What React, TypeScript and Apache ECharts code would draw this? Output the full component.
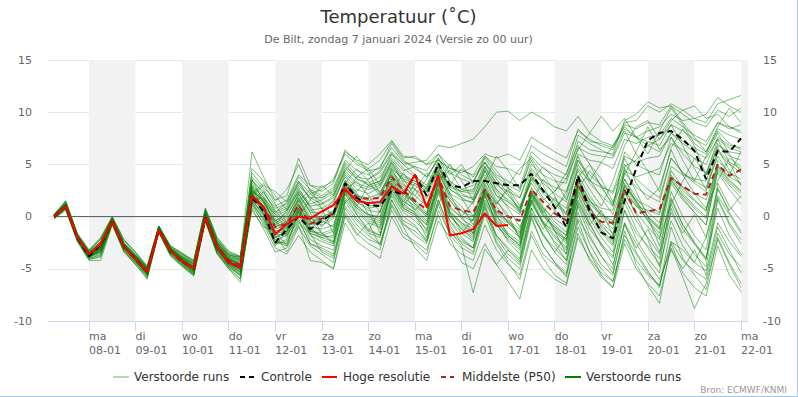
import React, { useEffect, useRef } from "react";
import * as echarts from "echarts";

// ---- time axis (hours since 07-01 00:00) ----
const START_HOURS = 6;
const STEP_HOURS = 6;
const AXIS_MIN = 2.9;
const AXIS_MAX = 363.6;
const tickHours = [24, 48, 72, 96, 120, 144, 168, 192, 216, 240, 264, 288, 312, 336, 360];
const dayNames = ["ma", "di", "wo", "do", "vr", "za", "zo", "ma", "di", "wo", "do", "vr", "za", "zo", "ma"];
const dayDates = ["08-01", "09-01", "10-01", "11-01", "12-01", "13-01", "14-01", "15-01", "16-01", "17-01", "18-01", "19-01", "20-01", "21-01", "22-01"];
const shadedDays = [[24, 48], [72, 96], [120, 144], [168, 192], [216, 240], [264, 288], [312, 336], [360, 363.6]];
const zeroLineHours = [6, 354];

// ---- y axis ----
const Y_MIN = -10;
const Y_MAX = 15;
const Y_STEP = 5;

// ---- Hoge resolutie (HRES, to +240h) ----
const hres = [0.0, 1.0, -2.0, -3.6, -2.6, -0.5, -2.9, -4.1, -5.3, -1.3, -3.3, -4.3, -5.0, -0.1, -2.9, -4.4, -4.9,
  2.0, 0.9, -1.7, -0.7, 0.0, -0.2, 0.5, 1.1, 2.6, 1.5, 1.3, 1.4, 2.9, 2.2, 4.0, 0.9, 4.0, -1.8, -1.6, -1.2, 0.3, -0.9, -0.8];

// ---- Controle ----
const controle = [0.0, 1.0, -2.0, -3.8, -2.7, -0.5, -2.9, -4.1, -5.3, -1.3, -3.3, -4.3, -5.0, -0.1, -2.9, -4.4, -4.9,
  1.8, 0.5, -2.5, -1.2, 0.0, -1.2, -0.4, 0.3, 3.2, 1.8, 1.1, 1.0, 2.5, 2.1, 4.0, 2.0, 5.1, 3.0, 2.8, 3.4, 3.4, 3.2, 3.0,
  3.0, 4.1, 2.5, 0.9, -1.0, 3.9, 0.6, -1.5, -2.1, 1.5, 4.6, 7.3, 8.0, 8.2, 7.4, 6.3, 3.6, 6.3, 6.2, 7.5];

// ---- Middelste (P50) ----
const p50 = [0.0, 1.0, -2.0, -3.6, -2.8, -0.4, -2.9, -4.0, -5.2, -1.2, -3.3, -4.2, -4.9, 0.0, -2.8, -4.2, -4.6,
  2.0, 0.9, -1.0, -0.7, 1.1, -0.7, -0.2, 0.3, 3.0, 1.8, 1.7, 1.8, 3.8, 2.5, 1.5, 0.7, 3.8, 1.0, 0.6, 0.4, 2.6, 0.6, 0.0,
  -0.4, 2.6, 1.4, 0.3, -0.4, 3.3, 0.4, -0.5, -0.6, 2.6, 0.3, 0.5, 0.7, 3.7, 2.9, 2.2, 2.1, 5.0, 3.9, 4.5];

// ---- Verstoorde runs (ensemble members) ----
const members = [
  [0.1, 1.3, -1.8, -3.4, -2.4, -0.2, -2.6, -3.7, -4.9, -1.0, -3.0, -3.8, -4.5, 0.4, -2.4, -3.7, -4.0, 3.5, 2.2, 0.8, 1.2, 3.0, 1.8, 1.2, 2.0, 4.6, 3.6, 3.2, 3.8, 5.6, 4.4, 4.8, 3.8, 5.4, 4.6, 4.2, 4.8, 6.0, 5.6, 6.0, 5.4, 7.6, 6.9, 6.2, 5.6, 8.2, 7.4, 6.8, 6.4, 8.8, 8.4, 9.0, 8.8, 10.6, 9.8, 9.0, 8.6, 10.2, 9.6, 10.4],
  [-0.2, 0.7, -2.3, -4.1, -3.8, -0.7, -3.3, -4.5, -5.8, -1.5, -3.7, -4.7, -5.6, -0.4, -3.5, -4.9, -5.9, 1.0, -0.6, -2.6, -2.2, -0.2, -2.6, -3.0, -3.6, 0.4, -1.2, -2.2, -2.6, 0.6, -1.6, -2.4, -3.2, 0.2, -2.6, -3.6, -4.2, -0.8, -3.2, -4.6, -5.6, -1.4, -3.6, -4.6, -5.6, -1.0, -3.4, -5.0, -6.2, -2.2, -4.2, -5.6, -6.6, -2.4, -4.2, -5.2, -6.0, -1.6, -3.6, -4.8],
  [0.0, 1.0, -2.0, -3.7, -3.0, -0.4, -2.9, -4.0, -5.3, -1.2, -3.3, -4.2, -5.0, 0.0, -2.9, -4.3, -4.8, 2.5, 1.2, -1.0, -0.5, 1.5, -0.5, 0.0, 0.5, 3.5, 2.0, 1.5, 2.0, 4.2, 2.8, 2.0, 1.0, 4.0, 1.5, 0.5, 0.0, 3.0, 0.5, -0.5, -1.5, 2.8, 1.0, -0.5, -1.5, 3.5, 1.0, -1.0, -2.0, 3.0, 1.5, 0.0, -1.0, 4.0, 2.5, 1.5, 0.5, 5.0, 3.5, 2.5],
  [0.2, 1.5, -1.6, -3.2, -2.0, 0.0, -2.2, -3.4, -4.8, -0.9, -2.8, -3.5, -4.2, 0.8, -2.0, -3.4, -3.9, 6.2, 3.8, 1.5, 2.6, 5.0, 2.4, 1.8, 2.6, 5.2, 4.0, 3.0, 3.4, 6.0, 4.6, 3.8, 3.0, 5.2, 2.6, 1.8, 1.2, 4.4, 2.0, 1.0, 0.2, 4.0, 2.6, 1.4, 0.4, 5.0, 3.2, 2.0, 1.0, 6.2, 5.0, 4.4, 4.0, 7.6, 6.0, 4.8, 4.2, 7.0, 5.8, 5.4],
  [-0.1, 0.9, -2.1, -3.9, -3.3, -0.5, -3.0, -4.2, -5.5, -1.3, -3.4, -4.4, -5.3, -0.2, -3.1, -4.6, -5.3, 1.5, 0.2, -2.0, -1.6, 0.6, -1.8, -2.4, -2.8, 1.8, 0.4, -0.6, -1.0, 2.4, 0.6, 0.0, -1.2, 2.6, -0.8, -2.6, -3.4, 0.8, -2.4, -4.0, -5.0, -0.2, -2.8, -4.4, -5.4, 0.4, -2.6, -4.6, -5.6, -0.6, -3.4, -5.2, -6.8, -1.0, -4.0, -5.6, -7.0, -2.0, -4.4, -6.4],
  [0.0, 1.1, -1.9, -3.6, -2.8, -0.3, -2.8, -3.9, -5.2, -1.1, -3.1, -4.0, -4.8, 0.2, -2.7, -4.0, -4.5, 2.0, 0.4, -1.8, -3.4, -1.0, -2.8, -3.6, -4.4, 1.0, -0.4, -1.6, -2.0, 3.0, 1.0, 0.4, -1.4, 3.4, 0.6, -0.6, -1.6, 2.4, 0.2, -1.8, -2.8, 1.8, -0.4, -1.8, -3.0, 2.6, 0.2, -1.6, -2.8, 2.2, 0.4, -1.0, -2.2, 3.2, 1.6, 0.4, -0.8, 4.2, 2.6, 1.2],
  [0.1, 1.4, -1.7, -3.3, -2.2, -0.1, -2.5, -3.6, -4.8, -0.9, -2.9, -3.6, -4.4, 0.6, -2.2, -3.5, -3.8, 4.2, 2.8, 1.6, 2.0, 5.6, 3.0, 2.4, 3.2, 6.4, 5.2, 4.6, 5.4, 7.2, 5.6, 5.8, 5.0, 5.4, 4.6, 4.4, 4.0, 5.8, 4.8, 4.6, 4.0, 6.8, 6.0, 5.4, 4.8, 8.4, 7.2, 7.0, 6.6, 9.0, 9.2, 10.6, 10.0, 10.8, 10.2, 9.4, 9.0, 10.8, 11.2, 11.6],
  [-0.1, 0.8, -2.2, -3.8, -3.4, -0.6, -3.1, -4.3, -5.6, -1.4, -3.5, -4.5, -5.4, -0.3, -3.2, -4.7, -5.5, 2.2, 0.8, -1.4, -1.2, 0.8, -1.2, -1.8, -1.4, 2.8, 1.4, 0.6, 0.4, 3.4, 1.6, 0.6, -0.6, 3.2, 0.2, -1.2, -2.2, 2.2, -0.8, -2.2, -3.2, 1.6, -0.8, -2.4, -3.6, 2.0, -0.6, -2.8, -4.0, 1.4, -1.2, -3.0, -4.6, 1.8, -0.8, -2.6, -4.2, 2.8, 0.4, -1.4],
  [0.0, 1.2, -1.9, -3.5, -2.7, -0.3, -2.7, -3.8, -5.1, -1.1, -3.2, -4.1, -4.9, 0.1, -2.6, -4.1, -4.4, 2.8, 1.6, -0.4, 0.2, 2.0, 0.4, 0.4, 1.2, 4.0, 2.6, 2.2, 2.8, 4.8, 3.4, 3.0, 2.2, 4.6, 2.8, 2.4, 2.6, 4.8, 3.2, 2.8, 1.8, 4.6, 3.4, 2.8, 2.4, 6.0, 5.4, 5.2, 4.6, 7.4, 7.0, 7.6, 7.8, 9.4, 8.6, 7.8, 7.2, 9.0, 8.4, 8.8],
  [-0.2, 0.6, -2.4, -4.2, -4.2, -0.8, -3.4, -4.6, -6.0, -1.5, -3.8, -4.8, -5.7, -0.5, -3.6, -5.0, -6.3, 1.2, -0.2, -2.4, -2.6, 0.2, -2.2, -2.8, -3.2, 1.4, -0.2, -1.4, -1.8, 1.6, -0.6, -1.8, -2.6, 1.2, -1.8, -3.0, -3.6, 0.2, -2.6, -4.4, -6.0, -1.8, -4.0, -5.6, -6.4, -1.6, -4.2, -5.8, -6.8, -2.6, -5.0, -6.4, -7.6, -3.0, -5.8, -8.8, -6.4, -2.2, -4.6, -6.8],
  [0.1, 1.2, -1.9, -3.5, -2.5, -0.2, -2.7, -3.8, -5.0, -1.0, -3.1, -3.9, -4.6, 0.3, -2.5, -3.8, -4.1, 3.0, 1.8, 0.0, 0.6, 2.6, 1.2, 1.6, 2.2, 4.8, 3.8, 3.6, 4.2, 6.0, 5.0, 5.2, 5.4, 6.8, 6.6, 7.0, 7.4, 8.6, 10.0, 10.1, 9.2, 10.0, 9.4, 8.6, 8.2, 9.6, 8.0, 7.2, 6.8, 8.6, 7.6, 6.8, 6.2, 8.0, 7.2, 6.6, 6.0, 8.4, 7.8, 7.4],
  [0.0, 0.9, -2.0, -3.8, -3.1, -0.4, -3.0, -4.1, -5.4, -1.2, -3.3, -4.3, -5.1, -0.1, -3.0, -4.4, -5.0, 1.8, 0.6, -1.6, -1.0, 1.2, -1.0, -1.2, -0.8, 2.6, 1.2, 0.0, -0.4, 2.8, 0.8, 0.2, -2.0, 1.6, -1.4, -2.8, -7.3, -3.1, -4.6, -6.2, -7.9, -3.2, -5.0, -6.0, -6.6, -2.0, -4.0, -5.4, -6.2, -1.8, -3.6, -5.4, -6.6, -2.4, -3.2, -4.4, -5.2, -0.6, -2.4, -3.8],
  [0.0, 1.0, -1.9, -3.7, -2.9, -0.4, -2.8, -4.0, -5.2, -1.2, -3.2, -4.1, -4.9, 0.1, -2.8, -4.2, -4.7, 2.6, 1.4, -0.8, -0.2, 1.6, -0.2, -0.6, 0.0, 3.2, 1.8, 1.0, 1.2, 3.6, 2.0, 1.4, 0.2, 3.8, 1.0, -0.2, -1.0, 2.8, 0.2, -0.6, -1.8, 2.4, 0.4, -1.2, -2.4, 3.0, 0.6, -1.4, -2.6, 2.4, 1.0, 0.6, 0.2, 4.8, 4.0, 3.6, 3.4, 6.8, 6.2, 6.0],
  [0.1, 1.1, -1.8, -3.5, -2.6, -0.3, -2.7, -3.8, -5.0, -1.1, -3.1, -3.9, -4.7, 0.3, -2.6, -3.9, -4.2, 3.2, 2.0, 0.2, 0.8, 3.2, 1.8, 1.8, 2.4, 5.0, 3.6, 3.0, 3.4, 5.4, 4.0, 3.4, 2.8, 5.0, 3.4, 2.6, 2.4, 5.2, 3.8, 3.0, 2.4, 5.8, 4.6, 4.0, 3.6, 7.2, 6.4, 6.2, 6.0, 9.2, 9.8, 11.0, 10.4, 10.6, 9.0, 7.6, 6.2, 8.2, 7.0, 6.4],
  [-0.1, 0.8, -2.2, -4.0, -3.6, -0.6, -3.2, -4.4, -5.7, -1.4, -3.6, -4.6, -5.5, -0.3, -3.4, -4.8, -5.6, 0.8, -1.2, -3.4, -3.0, -0.8, -4.2, -4.4, -5.0, -0.6, -2.4, -3.2, -4.0, 0.0, -2.0, -2.6, -3.6, 0.6, -1.6, -2.4, -3.0, 1.4, -0.8, -2.0, -3.0, 1.2, -0.6, -1.4, -2.2, 3.4, 1.6, 0.2, -0.8, 4.2, 2.8, 2.0, 1.4, 5.6, 4.2, 3.4, 2.8, 6.4, 5.2, 4.6],
  [0.0, 1.0, -2.1, -3.7, -3.0, -0.5, -2.9, -4.1, -5.3, -1.2, -3.3, -4.2, -5.0, 0.0, -2.9, -4.3, -4.9, 2.4, 1.0, -1.2, -0.8, 1.0, -0.8, -0.4, 0.2, 3.0, 1.6, 1.2, 1.4, 3.8, 2.2, 1.6, 0.4, 3.6, 0.8, 0.0, -0.4, 2.6, 0.4, -0.4, -1.2, 2.2, 0.8, -0.2, -1.0, 3.0, 1.2, 0.2, -0.4, 2.8, 1.6, 1.0, 0.4, 3.8, 2.8, 2.2, 1.6, 4.8, 3.8, 3.2],
  [0.2, 1.4, -1.7, -3.3, -2.2, -0.1, -2.3, -3.5, -4.9, -1.0, -2.9, -3.6, -4.3, 0.6, -2.2, -3.6, -4.1, 3.8, 2.6, 1.0, 1.6, 4.0, 3.0, 2.8, 3.4, 6.0, 5.0, 4.4, 4.6, 7.0, 5.4, 4.6, 3.8, 5.6, 3.4, 2.2, 1.6, 4.8, 2.6, 1.4, 0.4, 3.6, 1.8, 0.6, -0.4, 4.0, 2.0, 0.4, -0.8, 3.6, 1.8, 0.4, -0.6, 4.4, 2.8, 1.6, 0.6, 5.4, 4.2, 3.6],
  [-0.1, 0.9, -2.1, -3.9, -3.2, -0.5, -3.0, -4.2, -5.5, -1.3, -3.4, -4.4, -5.2, -0.2, -3.1, -4.5, -5.2, 1.6, 0.0, -2.2, -1.8, 0.4, -1.6, -2.0, -2.4, 2.2, 0.6, -0.4, -0.8, 2.2, 0.4, -0.4, -1.6, 2.2, -0.4, -1.6, -2.4, 1.2, -1.8, -3.2, -4.2, 0.8, -1.8, -3.4, -4.6, 1.0, -1.8, -3.8, -5.0, 0.6, -2.2, -4.0, -5.4, 0.8, -2.0, -3.6, -4.8, 1.6, -0.8, -2.6],
  [0.0, 1.1, -2.0, -3.6, -2.9, -0.3, -2.8, -3.9, -5.1, -1.1, -3.2, -4.1, -4.8, 0.2, -2.8, -4.1, -4.6, 2.2, 1.0, -1.0, -0.4, 1.8, 0.0, -0.2, 0.6, 3.4, 2.0, 1.8, 2.2, 4.4, 3.0, 2.6, 1.8, 4.4, 2.2, 1.6, 1.4, 3.8, 2.0, 1.4, 0.6, 3.8, 2.4, 1.6, 0.8, 4.6, 3.4, 2.8, 2.4, 5.8, 5.2, 5.6, 5.8, 8.0, 7.0, 6.2, 5.6, 7.4, 6.6, 6.2],
  [0.1, 1.2, -1.8, -3.4, -2.5, -0.2, -2.6, -3.7, -4.9, -1.0, -3.0, -3.8, -4.5, 0.5, -2.4, -3.7, -3.9, 2.0, 3.0, 2.4, 1.4, 3.4, 1.6, 0.8, 0.2, 3.0, 2.4, 3.6, 4.4, 6.2, 5.0, 4.0, 2.6, 4.4, 1.8, 0.6, -0.4, 3.2, 1.0, -0.6, -1.6, 2.0, 0.2, -1.0, -2.2, 2.4, 0.4, -1.2, -2.4, 4.8, 5.4, 6.8, 7.4, 9.2, 10.2, 10.6, 9.4, 9.8, 8.6, 8.0],
  [-0.2, 0.7, -2.3, -4.0, -3.7, -0.7, -3.3, -4.4, -5.7, -1.5, -3.6, -4.6, -5.5, -0.4, -3.4, -4.8, -5.7, 1.4, -0.4, -2.6, -2.4, -0.4, -2.6, -3.2, -3.8, 0.8, -0.8, -1.8, -2.6, 1.2, -0.8, -1.4, -2.4, 1.6, -1.2, -2.2, -3.0, 0.4, -1.8, -3.0, -4.0, 0.4, -1.8, -3.0, -4.2, 1.2, -1.2, -2.6, -3.8, 0.6, -1.6, -2.8, -4.0, 1.2, -1.2, -2.6, -4.0, 1.8, -0.6, -2.2],
  [0.0, 1.1, -1.9, -3.6, -2.7, -0.3, -2.8, -3.9, -5.2, -1.1, -3.1, -4.0, -4.8, 0.3, -2.7, -4.0, -4.4, 2.8, 1.4, -0.6, 0.0, 2.2, 0.6, 0.8, 1.4, 4.2, 3.0, 2.6, 3.0, 5.0, 3.6, 3.2, 2.4, 4.8, 2.6, 2.0, 1.8, 4.4, 2.6, 1.6, 0.8, 4.4, 3.2, 2.2, 1.4, 5.4, 4.0, 3.0, 2.2, 5.0, 3.6, 2.6, 1.8, 5.6, 4.2, 3.2, 2.4, 6.2, 5.0, 4.2],
  [-0.1, 0.9, -2.1, -3.8, -3.4, -0.5, -3.0, -4.2, -5.5, -1.3, -3.4, -4.4, -5.3, -0.1, -3.2, -4.6, -5.4, 1.2, -0.8, -3.0, -3.6, -1.8, -3.4, -4.2, -5.0, 0.2, -1.6, -2.6, -3.2, 1.6, -0.4, -1.0, -2.2, 2.4, 0.0, -1.0, -1.8, 2.0, -0.4, -1.8, -2.6, 2.0, 0.0, -1.0, -1.8, 3.0, 1.4, 0.8, 0.6, 4.4, 3.8, 4.2, 4.6, 7.0, 6.4, 5.6, 5.0, 7.6, 6.8, 6.6],
  [0.1, 1.3, -1.8, -3.4, -2.4, -0.2, -2.5, -3.7, -4.9, -1.0, -3.0, -3.7, -4.4, 0.5, -2.3, -3.6, -3.9, 3.4, 2.4, 0.4, 1.0, 3.4, 2.2, 2.6, 3.6, 6.2, 5.4, 5.0, 6.0, 7.3, 5.8, 5.6, 5.0, 6.0, 4.2, 3.6, 3.2, 5.6, 4.0, 3.4, 2.8, 6.2, 5.2, 4.6, 4.0, 7.8, 7.0, 6.4, 5.8, 8.4, 7.6, 7.2, 6.8, 8.8, 8.2, 7.4, 6.8, 9.0, 8.6, 8.2],
  [-0.2, 0.8, -2.3, -4.1, -3.9, -0.7, -3.3, -4.6, -5.9, -1.5, -3.7, -4.7, -5.6, -0.4, -3.5, -5.0, -6.0, 1.6, 0.2, -2.0, -1.4, 0.8, -1.4, -1.8, -2.0, 2.4, 0.8, -0.2, -0.6, 2.6, 0.8, 0.2, -0.8, 2.8, -0.4, -2.0, -3.0, 1.0, -2.0, -3.6, -4.6, 0.0, -2.8, -4.4, -5.8, -0.4, -3.4, -5.6, -6.8, -1.4, -4.6, -6.6, -8.3, -2.6, -5.4, -6.8, -7.6, -2.8, -5.6, -7.2],
  [0.0, 1.0, -2.0, -3.7, -3.0, -0.4, -2.9, -4.0, -5.3, -1.2, -3.3, -4.2, -5.0, 0.0, -2.9, -4.3, -4.8, 2.0, 0.8, -1.4, -1.0, 1.2, -0.6, -0.8, -0.2, 3.0, 1.4, 0.8, 1.0, 3.6, 1.8, 1.0, 0.0, 3.2, 0.4, -0.6, -1.2, 2.4, 0.0, -1.0, -2.0, 2.4, 0.6, -0.8, -1.8, 2.8, 0.8, -0.6, -1.6, 2.6, 1.0, -0.2, -1.2, 3.4, 2.0, 0.8, -0.2, 4.4, 3.0, 1.8],
  [-0.1, 0.9, -2.1, -3.9, -3.3, -0.5, -3.0, -4.2, -5.4, -1.3, -3.4, -4.4, -5.3, -0.2, -3.1, -4.6, -5.3, 1.8, 0.4, -1.8, -1.6, 0.6, -1.6, -2.0, -1.8, 2.4, 0.8, 0.2, -0.2, 3.0, 1.2, 0.4, -0.8, 3.0, 0.0, -1.2, -2.0, 2.0, -0.6, -1.8, -2.8, 1.6, -0.6, -2.0, -3.2, 2.2, -0.2, -2.0, -3.4, 1.8, -0.4, -2.0, -3.6, 2.4, 0.0, -1.8, -3.2, 3.2, 1.0, -0.4],
  [0.2, 1.5, -1.6, -3.2, -2.1, 0.0, -2.2, -3.4, -4.7, -0.9, -2.8, -3.5, -4.2, 0.8, -2.0, -3.3, -3.8, 3.0, 1.8, 0.4, 1.4, 3.8, 2.6, 2.0, 2.8, 5.4, 4.4, 4.0, 4.8, 6.6, 5.2, 4.8, 4.4, 6.0, 4.8, 4.0, 3.4, 5.2, 3.2, 2.0, 0.8, 3.8, 2.2, 1.2, 0.2, 3.6, 1.6, 0.0, -1.2, 3.0, 1.2, -0.4, -1.6, 3.6, 1.8, 0.4, -0.8, 4.6, 3.2, 2.2],
  [0.0, 1.0, -2.0, -3.6, -2.8, -0.4, -2.8, -4.0, -5.2, -1.2, -3.2, -4.1, -4.9, 0.1, -2.8, -4.1, -4.7, 2.2, 0.6, -1.6, -1.4, 0.8, -1.4, -1.6, -1.2, 2.6, 1.0, 0.2, 0.0, 3.2, 1.4, 0.8, -0.4, 3.4, 0.4, -0.8, -1.6, 2.6, -0.2, -1.6, -2.4, 2.2, 0.2, -1.4, -2.6, 3.0, 0.8, -0.8, -2.0, 3.2, 1.4, 0.0, -1.2, 3.8, 2.2, 1.0, 0.0, 4.8, 3.4, 2.4],
  [0.1, 1.2, -1.9, -3.5, -2.6, -0.3, -2.6, -3.8, -5.0, -1.0, -3.1, -3.9, -4.6, 0.4, -2.5, -3.8, -4.2, 2.6, 1.4, -0.4, 0.4, 2.4, 1.0, 1.2, 1.8, 4.4, 3.2, 2.8, 3.2, 5.2, 3.8, 3.4, 2.6, 4.8, 3.0, 2.4, 2.2, 4.6, 3.0, 2.4, 1.8, 5.0, 4.0, 3.4, 3.2, 6.6, 6.0, 5.8, 5.6, 8.0, 7.6, 8.2, 8.6, 9.8, 9.2, 9.4, 9.8, 11.4, 10.6, 10.0],
  [0.0, 1.1, -2.0, -3.7, -3.1, -0.4, -2.9, -4.1, -5.2, -1.2, -3.3, -4.2, -5.0, 0.1, -2.9, -4.3, -4.9, 2.2, 3.2, 1.2, -0.6, 2.2, 0.4, -1.6, -2.4, 2.6, 3.4, 2.0, 0.4, 4.6, 2.4, 0.6, 1.8, 3.2, 5.0, 3.4, 1.6, 3.6, 1.2, 2.6, 0.4, 1.2, 3.6, 2.0, -0.4, 2.6, 4.4, 3.0, 1.0, 5.6, 3.2, 1.6, 2.8, 6.4, 4.0, 2.2, 0.8, 3.4, 5.6, 4.8],
  [0.0, 1.0, -2.1, -3.8, -3.1, -0.4, -3.0, -4.1, -5.3, -1.2, -3.4, -4.3, -5.1, 0.0, -3.0, -4.4, -5.0, 2.4, 0.2, -2.8, -1.4, 1.4, 2.6, 0.8, -1.6, 2.0, 3.8, 4.6, 3.0, 5.2, 3.2, 1.6, 2.8, 4.8, 2.2, 0.0, 1.4, 3.4, 5.8, 4.4, 2.6, 5.4, 3.0, 0.8, 2.0, 5.8, 3.4, 5.2, 6.8, 8.2, 6.0, 4.4, 2.4, 6.6, 8.4, 6.8, 4.0, 7.4, 5.2, 3.0],
  [0.1, 1.2, -1.9, -3.6, -2.8, -0.3, -2.7, -3.9, -5.1, -1.1, -3.2, -4.0, -4.8, 0.2, -2.7, -4.0, -4.6, 4.6, 3.4, 2.0, 0.6, 2.8, 0.8, -1.0, 0.4, 2.2, 0.2, -1.4, 0.6, 3.0, 1.4, 3.2, 2.4, 4.2, 2.0, 1.0, -0.8, 2.6, 1.4, 0.2, -2.2, 2.2, 0.4, 1.8, 0.2, 3.8, 5.0, 3.6, 1.4, 4.6, 2.4, 0.0, -2.8, 1.6, -0.8, -2.4, -4.0, 0.8, -1.8, -3.6],
  [-0.1, 0.9, -2.1, -3.8, -3.2, -0.5, -3.0, -4.2, -5.4, -1.3, -3.4, -4.3, -5.2, -0.1, -3.1, -4.5, -5.1, 1.2, 2.4, 0.6, -0.8, 1.0, 2.2, 1.4, 0.0, 2.8, 1.0, 3.0, 2.4, 4.0, 2.6, 1.2, 0.0, 2.6, 0.4, -1.6, -0.2, 2.2, 1.2, 2.8, 1.0, 3.2, 1.6, 2.4, 4.2, 6.8, 5.0, 2.8, 1.2, 4.0, 6.2, 8.6, 6.4, 7.6, 5.4, 3.4, 5.8, 8.0, 6.0, 4.2],
  [0.0, 1.0, -2.0, -3.6, -2.9, -0.4, -2.8, -4.0, -5.3, -1.2, -3.2, -4.2, -5.0, 0.0, -2.8, -4.2, -4.8, 2.8, 0.6, -0.4, -2.0, 0.4, -1.4, 0.2, 1.6, 3.8, 2.2, 0.2, -1.2, 2.4, 4.2, 2.6, 1.0, 3.6, 4.4, 2.6, 3.0, 4.0, 2.4, 0.8, -1.0, 1.4, -0.6, -2.6, -4.2, -0.2, -2.0, -3.8, -5.4, -0.8, -3.0, -1.2, -3.4, 0.4, -1.6, 0.2, -2.0, 2.6, 0.6, 2.0],
  [0.1, 1.1, -1.9, -3.6, -2.8, -0.3, -2.8, -3.9, -5.1, -1.1, -3.1, -4.1, -4.8, 0.2, -2.7, -4.1, -4.6, 1.6, 1.8, -0.2, -1.8, 0.0, 1.6, 3.0, 2.0, 4.4, 5.8, 4.2, 2.2, 4.6, 3.6, 2.0, 3.6, 5.6, 4.0, 5.0, 3.2, 5.8, 4.4, 3.0, 4.6, 5.6, 4.0, 2.4, 3.6, 6.4, 8.0, 9.6, 8.2, 9.4, 7.6, 6.0, 8.2, 10.4, 8.8, 7.0, 6.2, 8.6, 10.4, 9.0],
  [-0.1, 0.8, -2.2, -3.9, -3.5, -0.6, -3.1, -4.3, -5.6, -1.4, -3.5, -4.5, -5.4, -0.3, -3.3, -4.7, -5.6, 0.6, -1.0, -1.4, -2.8, -0.6, -1.6, -3.4, -4.0, 0.0, -1.8, -0.6, -2.8, 1.0, -1.0, -3.0, -4.2, -0.4, -2.0, -4.4, -5.0, -2.6, -4.6, -3.2, -4.4, 0.2, -1.6, -3.4, -1.8, 1.6, -0.8, -2.6, -4.6, -0.6, -2.6, -4.4, -6.0, -3.2, -5.0, -3.2, -5.6, -1.0, -3.2, -5.4],
  [0.0, 1.0, -2.0, -3.7, -3.0, -0.4, -2.9, -4.0, -5.2, -1.2, -3.3, -4.2, -4.9, 0.0, -2.9, -4.3, -4.7, 2.4, 1.6, -0.8, 0.6, 2.4, 1.0, -0.4, -1.0, 3.2, 4.6, 3.4, 2.0, 4.0, 2.4, 1.2, 0.2, 4.2, 3.0, 4.6, 3.8, 5.2, 3.6, 2.2, 0.6, 3.4, 4.8, 3.6, 1.6, 4.4, 2.6, 1.0, 3.4, 6.8, 8.6, 9.2, 7.4, 8.8, 6.8, 4.6, 2.6, 5.8, 4.0, 6.2],
  [0.1, 1.2, -1.8, -3.5, -2.6, -0.2, -2.6, -3.8, -5.0, -1.0, -3.1, -3.9, -4.6, 0.3, -2.5, -3.9, -4.3, 3.6, 1.4, 0.2, -1.2, 1.8, -0.4, -1.6, -2.6, 1.6, 0.2, -1.2, -1.8, 3.2, 1.0, 2.6, 4.2, 3.0, 1.6, 0.0, -1.6, 1.6, -0.6, -2.4, -3.6, 0.8, -1.2, 0.6, 2.4, 5.4, 3.6, 1.8, 0.2, 3.6, 1.4, -0.4, -2.0, 1.2, 3.4, 5.6, 4.0, 6.6, 4.4, 3.0],
  [0.0, 0.9, -2.1, -3.8, -3.2, -0.5, -3.0, -4.1, -5.4, -1.3, -3.4, -4.3, -5.1, -0.1, -3.0, -4.5, -5.1, 1.4, -0.2, -2.4, -2.8, 0.6, -1.0, -2.2, -2.6, 1.4, 2.2, 1.0, -1.6, 2.0, 0.0, -0.8, -2.4, 1.2, 3.2, 1.8, 0.0, 3.6, 1.6, -0.2, -2.0, 2.6, 0.8, -1.4, -3.6, 1.4, -0.8, 0.6, -1.8, 2.4, 0.2, -2.2, -4.8, -0.4, -2.8, -4.4, -2.0, 2.0, 0.2, -1.6],
];

const FONT = "DejaVu Sans";
const COLORS = {
  member: "rgba(0,128,0,0.5)",
  memberLegendLight: "#b3d9b3",
  memberLegend: "#008000",
  controle: "#000000",
  hres: "#ff0000",
  p50: "#b22222",
  zero: "#555555",
  band: "#f2f2f2",
  grid: "#e6e6e6",
  axis: "#ccd6eb",
};

const toData = (values: number[]) => values.map((v, i) => [START_HOURS + i * STEP_HOURS, v]);

export default function App() {
  const ref = useRef<HTMLDivElement>(null);

  useEffect(() => {
    if (!ref.current) return;
    const chart = echarts.init(ref.current, null, { renderer: "svg" });

    const memberSeries = members.map((m, k) => ({
      name: "Verstoorde runs",
      id: "member" + k,
      type: "line",
      data: toData(m),
      symbol: "none",
      silent: true,
      z: 2,
      lineStyle: { color: COLORS.member, width: 1 },
    }));

    const legendY = 377;
    const legendItems = [
      { x1: 113, x2: 129, text: "Verstoorde runs", tx: 134, color: COLORS.memberLegendLight, dash: null },
      { x1: 240, x2: 254, text: "Controle", tx: 261, color: COLORS.controle, dash: [5, 4] },
      { x1: 322, x2: 337, text: "Hoge resolutie", tx: 343, color: COLORS.hres, dash: null },
      { x1: 441, x2: 454, text: "Middelste (P50)", tx: 462, color: COLORS.p50, dash: [5, 4] },
      { x1: 565, x2: 581, text: "Verstoorde runs", tx: 586, color: COLORS.memberLegend, dash: null },
    ];
    const legendGraphics: any[] = [];
    legendItems.forEach((it) => {
      legendGraphics.push({
        type: "line",
        shape: { x1: it.x1, y1: legendY, x2: it.x2, y2: legendY },
        style: { stroke: it.color, lineWidth: 2, lineDash: it.dash || undefined },
        silent: true,
      });
      legendGraphics.push({
        type: "text",
        x: it.tx,
        y: legendY,
        style: {
          text: it.text,
          fill: "#333333",
          font: `12px "${FONT}"`,
          textAlign: "left",
          textVerticalAlign: "middle",
        },
        silent: true,
      });
    });
    legendGraphics.push({
      type: "text",
      x: 787,
      y: 390,
      style: {
        text: "Bron: ECMWF/KNMI",
        fill: "#999999",
        font: `9px "${FONT}"`,
        textAlign: "right",
        textVerticalAlign: "middle",
      },
      silent: true,
    });

    const option: any = {
      animation: false,
      textStyle: { fontFamily: FONT },
      title: {
        text: "Temperatuur (˚C)",
        subtext: "De Bilt, zondag 7 januari 2024 (Versie zo 00 uur)",
        left: "center",
        top: 2,
        itemGap: 9,
        textStyle: { fontSize: 18, fontWeight: "normal", color: "#333333", fontFamily: FONT },
        subtextStyle: { fontSize: 11, color: "#666666", fontFamily: FONT },
      },
      grid: { left: 48, right: 49, top: 60, bottom: 75, containLabel: false },
      xAxis: {
        type: "value",
        min: AXIS_MIN,
        max: AXIS_MAX,
        axisLine: { show: true, onZero: false, lineStyle: { color: COLORS.axis, width: 1 } },
        axisTick: { show: true, customValues: tickHours, length: 10, lineStyle: { color: COLORS.axis } },
        axisLabel: {
          customValues: tickHours,
          formatter: (v: number) => {
            const idx = Math.round(v / 24) - 1;
            return `${dayNames[idx]}\n${dayDates[idx]}`;
          },
          align: "left",
          color: "#666666",
          fontSize: 11,
          lineHeight: 14,
          margin: 8,
          fontFamily: FONT,
        },
        splitLine: { show: false },
      },
      yAxis: [
        {
          type: "value",
          min: Y_MIN,
          max: Y_MAX,
          interval: Y_STEP,
          position: "left",
          axisLine: { show: false },
          axisTick: { show: false },
          axisLabel: { color: "#666666", fontSize: 11, margin: 16, fontFamily: FONT },
          splitLine: { show: true, lineStyle: { color: COLORS.grid, width: 1 } },
        },
        {
          type: "value",
          min: Y_MIN,
          max: Y_MAX,
          interval: Y_STEP,
          position: "right",
          axisLine: { show: false },
          axisTick: { show: false },
          axisLabel: { color: "#666666", fontSize: 11, margin: 15, fontFamily: FONT },
          splitLine: { show: false },
        },
      ],
      series: [
        {
          id: "bands",
          type: "line",
          data: [],
          z: -1,
          silent: true,
          markArea: {
            silent: true,
            itemStyle: { color: COLORS.band },
            data: shadedDays.map(([a, b]) => [{ xAxis: a }, { xAxis: b }]),
          },
        },
        ...memberSeries,
        {
          id: "zero",
          type: "line",
          data: zeroLineHours.map((h) => [h, 0]),
          symbol: "none",
          silent: true,
          z: 3,
          lineStyle: { color: COLORS.zero, width: 1 },
        },
        {
          id: "p50",
          name: "Middelste (P50)",
          type: "line",
          data: toData(p50),
          symbol: "none",
          z: 4,
          lineStyle: { color: COLORS.p50, width: 2, type: [6, 4] },
        },
        {
          id: "controle",
          name: "Controle",
          type: "line",
          data: toData(controle),
          symbol: "none",
          z: 5,
          lineStyle: { color: COLORS.controle, width: 2, type: [6, 4] },
        },
        {
          id: "hres",
          name: "Hoge resolutie",
          type: "line",
          data: toData(hres),
          symbol: "none",
          z: 6,
          lineStyle: { color: COLORS.hres, width: 2 },
        },
      ],
      graphic: legendGraphics,
    };

    chart.setOption(option);
    return () => chart.dispose();
  }, []);

  return (
    <div
      style={{
        position: "fixed",
        left: 0,
        top: 0,
        width: 797,
        height: 396,
        background: "#ffffff",
        borderRight: "1px solid #a9c6ee",
        borderBottom: "1px solid #a9c6ee",
      }}
    >
      <div ref={ref} style={{ width: 797, height: 396 }} />
    </div>
  );
}
